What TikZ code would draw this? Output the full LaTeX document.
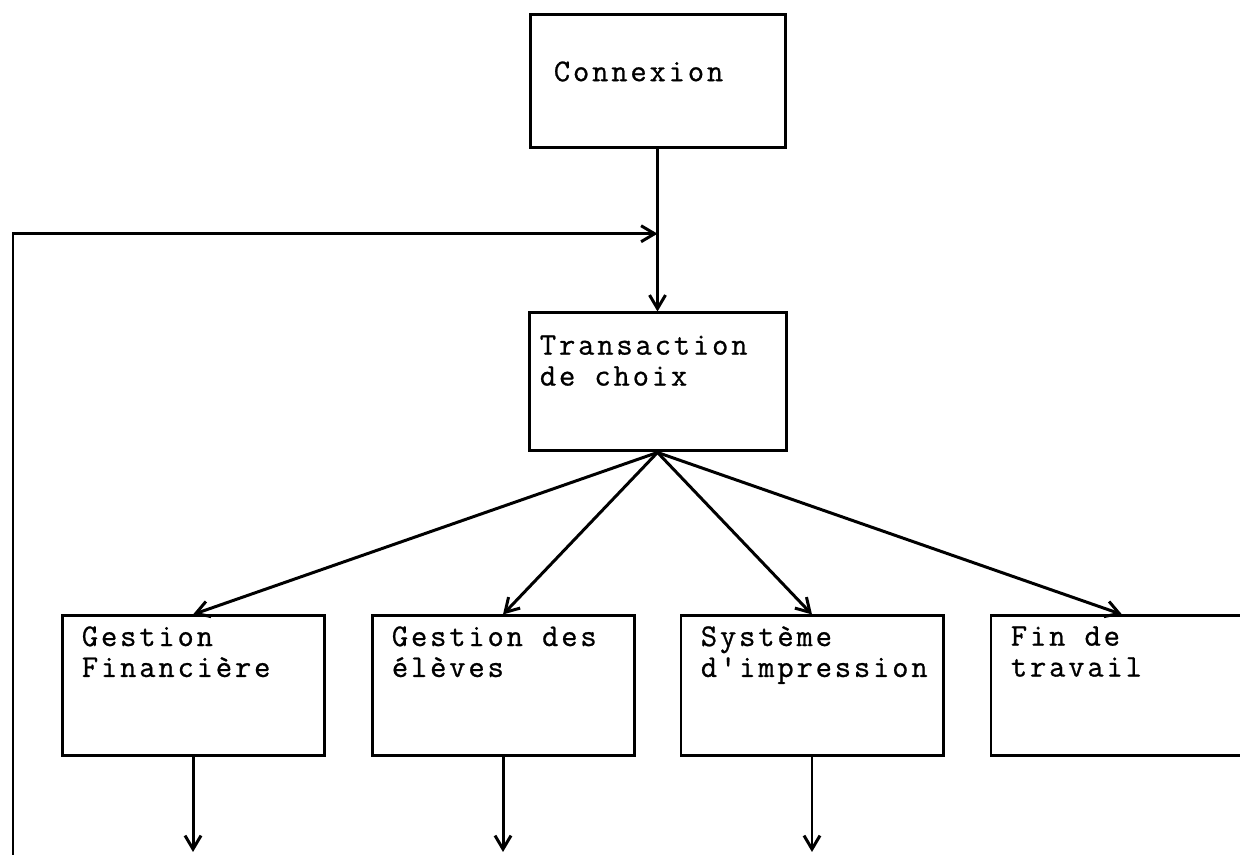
\documentclass[tikz,border=0pt]{standalone}
\usepackage{fontspec}
\newfontfamily\printerfont{Latin Modern Mono}[LetterSpace=9, Ligatures=TeXOff, FakeBold=0.8]
\usepackage{tikz}
\usetikzlibrary{arrows.meta, positioning}

\begin{document}
\begin{tikzpicture}[
		node distance=3.24cm and 0.9cm,
		menu/.style={rectangle, draw, line width=1.7pt, minimum width=5.24cm, minimum height=2.8cm},
		txt/.style={anchor=north west, align=left, inner xsep=0.42cm, inner ysep=0.23cm, font=\printerfont\fontsize{18}{17.6}\selectfont},
		arrow/.style={-{Straight Barb[length=2.7mm, width=3.2mm]}, line width=1.7pt}
		]
		\useasboundingbox (0,0) rectangle (24.8,17.1);
		% Nodes
		\node[menu, minimum width=5.1cm, minimum height=2.66cm, label={[txt, anchor=west, inner xsep=0.5cm, yshift=0.2cm]west:Connexion}] (conn) at (13.15,15.47) {};
		\node[menu, minimum width=5.14cm, minimum height=2.76cm, label={[txt, inner xsep=0.24cm, inner ysep=0.47cm]north west:Transaction\\de choix}] (trans) [below=of conn] {};
		\node[menu, label={[txt]north west:Gestion des\\élèves}] (eleves) [below left=3.24cm and 0.44cm of trans.south] {};
		\node[menu, label={[txt]north west:Gestion\\Financière}] (finance) [left=of eleves] {};
		\node[menu, label={[txt]north west:Système\\d'impression}] (impression) [below right=3.24cm and 0.44cm of trans.south] {};
		\node[menu, label={[txt]north west:Fin de\\travail}] (fin) [right=of impression] {};
		\coordinate (floor) at (0,0.06);
		\coordinate (loop) at (0.26,0);
		\foreach \target in {finance, eleves, impression}
			\coordinate (\target-end) at (\target.south |- floor);
		
		% Arrows
		\draw[arrow] (conn) -- coordinate[pos=0.52] (join) (trans);
		\draw[arrow] (loop) |- (join);
		\foreach \target in {finance, eleves, impression, fin}
			\draw[arrow] (trans.south) -- (\target.north);
		\foreach \target in {finance, eleves, impression}
			\draw[arrow] (\target) -- (\target-end);
	\end{tikzpicture}
\end{document}
